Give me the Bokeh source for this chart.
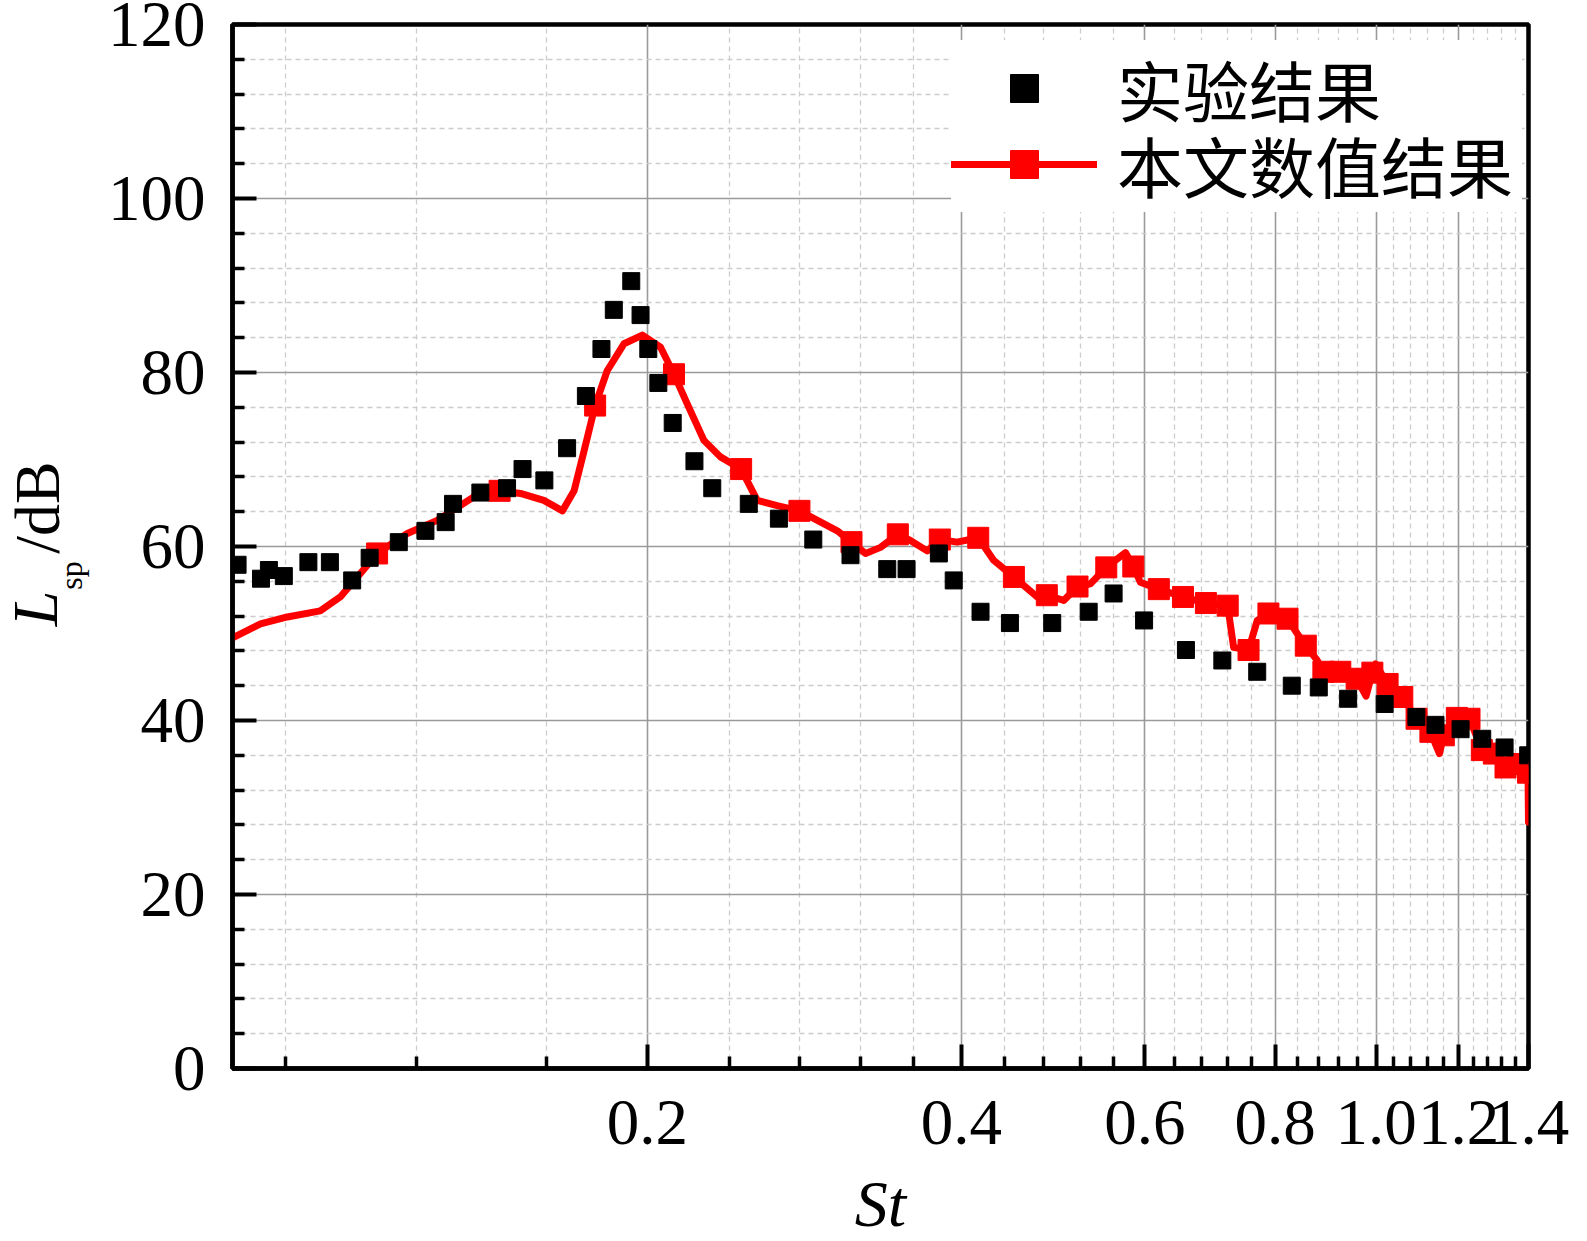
import math
from bokeh.plotting import figure
from bokeh.layouts import row
from bokeh.models import (Range1d, FixedTicker, NumeralTickFormatter, Label,
                          Legend, LegendItem, ColumnDataSource)
from bokeh.embed import file_html
from bokeh.resources import INLINE

# ---------------- data ----------------
st_exp = [0.0809, 0.0852, 0.0867, 0.0896, 0.0946, 0.0992, 0.1042, 0.1083, 0.1155,
          0.1225, 0.1281, 0.1302, 0.1383, 0.1467, 0.1518, 0.1593, 0.1675, 0.1746,
          0.1807, 0.1857, 0.1930, 0.1970, 0.2004, 0.2049, 0.2115, 0.2219, 0.2308,
          0.2502, 0.2674, 0.2885, 0.3132, 0.3397, 0.3545, 0.3807, 0.3934, 0.4174,
          0.4454, 0.4890, 0.5300, 0.5600, 0.5990, 0.6570, 0.7120, 0.7690, 0.8300,
          0.8810, 0.9400, 1.0190, 1.0930, 1.1400, 1.2050, 1.2640, 1.3280, 1.3990]
lsp_exp = [57.9, 56.3, 57.3, 56.6, 58.2, 58.2, 56.1, 58.7, 60.5,
           61.8, 62.8, 64.9, 66.2, 66.7, 68.9, 67.6, 71.3, 77.3,
           82.7, 87.2, 90.5, 86.6, 82.7, 78.8, 74.2, 69.8, 66.7,
           64.9, 63.2, 60.8, 59.0, 57.4, 57.4, 59.2, 56.1, 52.5,
           51.2, 51.2, 52.5, 54.6, 51.5, 48.1, 46.9, 45.6, 44.0,
           43.8, 42.5, 41.9, 40.4, 39.5, 39.0, 37.9, 36.9, 36.0]

st_num = [0.0800, 0.0851, 0.0903, 0.0971, 0.1015, 0.1061, 0.1101, 0.1177, 0.1257,
          0.1363, 0.1443, 0.1511, 0.1591, 0.1658, 0.1701, 0.1739, 0.1782, 0.1830,
          0.1899, 0.1978, 0.2059, 0.2121, 0.2184, 0.2266, 0.2350, 0.2460, 0.2549,
          0.2664, 0.2798, 0.3042, 0.3139, 0.3238, 0.3347, 0.3477, 0.3575, 0.3710,
          0.3815, 0.3964, 0.4153, 0.4298, 0.4493, 0.4730, 0.4832, 0.5016, 0.5171,
          0.5320, 0.5510, 0.5750, 0.5849, 0.5940, 0.6188, 0.6527, 0.6866, 0.7205,
          0.7300, 0.7544, 0.7690, 0.7883, 0.8222, 0.8400, 0.8561, 0.8780, 0.8900,
          0.9239, 0.9400, 0.9578, 0.9780, 0.9917, 0.9990, 1.0256, 1.0595, 1.0934,
          1.1273, 1.1500, 1.1612, 1.1951, 1.2290, 1.2450, 1.2629, 1.2968, 1.3150,
          1.3307, 1.3646, 1.3900, 1.3985, 1.4000]
lsp_num = [49.5, 51.1, 51.9, 52.6, 54.2, 56.9, 59.2, 61.5, 63.0,
           65.7, 66.4, 66.1, 65.3, 64.1, 66.4, 71.0, 76.2, 80.2,
           83.3, 84.3, 82.9, 79.8, 76.4, 72.2, 70.3, 68.9, 65.3,
           64.7, 64.1, 61.8, 60.5, 59.2, 59.9, 61.4, 60.7, 59.5,
           60.8, 60.5, 61.0, 58.4, 56.5, 54.2, 54.4, 53.8, 55.4,
           55.7, 57.6, 59.3, 57.7, 55.9, 55.1, 54.2, 53.5, 53.2,
           48.4, 48.1, 51.5, 52.3, 51.7, 50.0, 48.6, 46.9, 45.6,
           45.6, 45.0, 44.8, 42.8, 45.5, 46.5, 44.2, 42.7, 40.2,
           38.7, 36.2, 38.3, 40.3, 40.2, 38.5, 36.6, 36.2, 35.0,
           34.6, 35.0, 34.5, 34.0, 28.3]

# St positions of the square symbols drawn on the numerical curve
st_marker = [0.1101, 0.1443, 0.1782, 0.2121, 0.2460, 0.2798, 0.3139, 0.3477, 0.3815,
             0.4153, 0.4493, 0.4832, 0.5171, 0.5510, 0.5849, 0.6188, 0.6527, 0.6866,
             0.7205, 0.7544, 0.7883, 0.8222, 0.8561, 0.8900, 0.9239, 0.9578, 0.9917,
             1.0256, 1.0595, 1.0934, 1.1273, 1.1612, 1.1951, 1.2290, 1.2629, 1.2968,
             1.3307, 1.3646, 1.3985]
lsp_marker = [lsp_num[st_num.index(s)] for s in st_marker]

x_major = [0.2, 0.4, 0.6, 0.8, 1.0, 1.2, 1.4]
x_minor = [0.09, 0.12, 0.16, 0.24, 0.28, 0.32, 0.36, 0.44, 0.48, 0.52, 0.56,
           0.64, 0.68, 0.72, 0.76, 0.84, 0.88, 0.92, 0.96, 1.04, 1.08, 1.12, 1.16,
           1.24, 1.28, 1.32, 1.36]
y_major = [0, 20, 40, 60, 80, 100, 120]
y_minor = [4, 8, 12, 16, 24, 28, 32, 36, 44, 48, 52, 56, 64, 68, 72, 76,
           84, 88, 92, 96, 104, 108, 112, 116]

legend_labels = ["实验结果", "本文数值结果"]
x_title = "St"
y_title_parts = ["L", "sp", "/dB"]

X_MIN, X_MAX = 0.08, 1.4
Y_MIN, Y_MAX = 0, 120

# ---------------- layout constants (page pixels) ----------------
FIG_H = 1241
TW = 100                       # width of the strip holding the y title
BL, BT, BR = 132, 24, 50       # borders of the main figure
FW, FH = 1296, 1044
BB = FIG_H - BT - FH
FRAME_B = BT + FH


def page_y_to_data(sy):
    return Y_MIN + (FRAME_B - sy) * (Y_MAX - Y_MIN) / FH


SERIF = "Liberation Serif"
CJK = "Noto Sans CJK SC"

# ---------------- main figure ----------------
p = figure(x_axis_type="log", x_range=Range1d(X_MIN, X_MAX), y_range=Range1d(Y_MIN, Y_MAX),
           frame_width=FW, frame_height=FH,
           min_border_left=BL, min_border_top=BT, min_border_right=BR, min_border_bottom=BB,
           output_backend="svg", toolbar_location=None)
p.background_fill_color = "white"
p.border_fill_color = "white"
p.outline_line_color = "black"
p.outline_line_width = 4.5
p.outline_line_alpha = 1.0

xa = p.xaxis[0]
ya = p.yaxis[0]
xa.ticker = FixedTicker(ticks=x_major, minor_ticks=x_minor)
xa.formatter = NumeralTickFormatter(format="0.0")
ya.ticker = FixedTicker(ticks=y_major, minor_ticks=y_minor)

for ax in (xa, ya):
    ax.axis_line_color = "black"
    ax.axis_line_width = 4.5
    ax.major_tick_in = 24
    ax.major_tick_out = 0
    ax.minor_tick_in = 12
    ax.minor_tick_out = 0
    ax.major_tick_line_width = 4
    ax.minor_tick_line_width = 3.5
    ax.major_tick_line_color = "black"
    ax.minor_tick_line_color = "black"
    ax.major_label_text_font = SERIF
    ax.major_label_text_font_size = "65px"
    ax.major_label_text_color = "black"
xa.major_label_standoff = 32
ya.major_label_standoff = 27

xa.axis_label = x_title
xa.axis_label_text_font = SERIF
xa.axis_label_text_font_style = "italic"
xa.axis_label_text_font_size = "66px"
xa.axis_label_text_color = "black"
xa.axis_label_standoff = 20

for g in (p.xgrid[0], p.ygrid[0]):
    g.grid_line_color = "#9a9a9a"
    g.grid_line_width = 1.6
    g.minor_grid_line_color = "#cccccc"
    g.minor_grid_line_width = 1.3
    g.minor_grid_line_dash = "5 4"

src_num = ColumnDataSource(dict(st=st_num, lsp=lsp_num))
src_mark = ColumnDataSource(dict(st=st_marker, lsp=lsp_marker))
src_exp = ColumnDataSource(dict(st=st_exp, lsp=lsp_exp))

r_line = p.line("st", "lsp", source=src_num, line_color="#ff0000", line_width=7,
                line_join="round", line_cap="round")
r_mark = p.scatter("st", "lsp", source=src_mark, marker="square", size=21,
                   fill_color="#ff0000", line_color="#ff0000")
r_exp = p.scatter("st", "lsp", source=src_exp, marker="square", size=17,
                  fill_color="black", line_color="black")


def make_legend(item, loc):
    lg = Legend(items=[item], location=loc)
    lg.label_text_font = CJK
    lg.label_text_font_size = "66px"
    lg.label_text_color = "black"
    lg.glyph_width = 146
    lg.glyph_height = 70
    lg.label_height = 60
    lg.label_width = 405
    lg.label_standoff = 20
    lg.padding = 0
    lg.margin = 0
    lg.border_line_color = None
    lg.background_fill_color = "white"
    lg.background_fill_alpha = 1.0
    return lg


# second row first, so that the first row's box is painted over it
p.add_layout(make_legend(LegendItem(label=legend_labels[1], renderers=[r_line, r_mark]),
                         (719, 856)))
p.add_layout(make_legend(LegendItem(label=legend_labels[0], renderers=[r_exp]),
                         (719, 932)))

# ---------------- strip with the y-axis title  L_sp/dB ----------------
pt = figure(frame_width=TW, frame_height=FH, min_border_left=0, min_border_right=0,
            min_border_top=BT, min_border_bottom=BB,
            x_range=Range1d(0, TW), y_range=Range1d(Y_MIN, Y_MAX),
            x_axis_location=None, y_axis_location=None,
            output_backend="svg", toolbar_location=None)
pt.outline_line_color = None
pt.background_fill_color = "white"
pt.border_fill_color = "white"
for g in pt.grid:
    g.visible = False

# (text, centre x in page px, centre y in page px, size, style)
for txt, cx, cy, size, style in [(y_title_parts[0], 35, 608, "64px", "italic"),
                                 (y_title_parts[1], 70, 575, "32px", "normal"),
                                 (y_title_parts[2], 37, 507, "64px", "normal")]:
    pt.add_layout(Label(x=cx, y=page_y_to_data(cy), text=txt, angle=math.pi / 2,
                        text_align="center", text_baseline="middle",
                        text_font=SERIF, text_font_style=style, text_font_size=size,
                        text_color="black"))

page = row(pt, p)
open("out.html", "w").write(file_html(page, INLINE))
